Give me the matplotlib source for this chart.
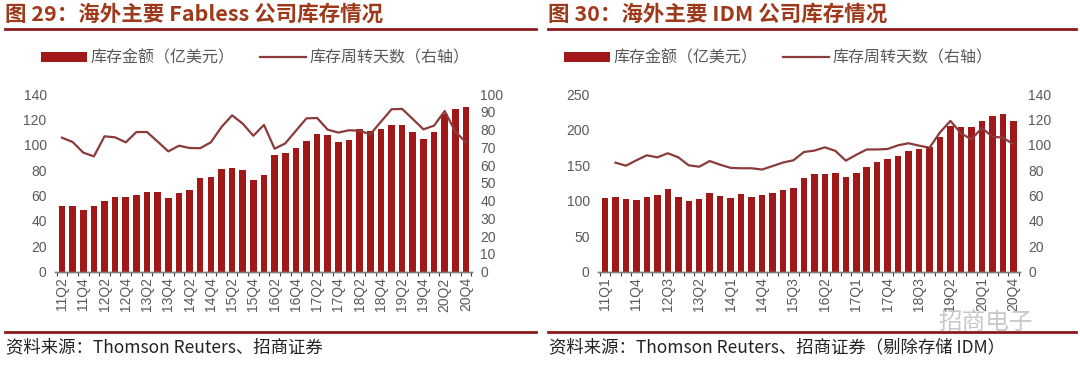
import matplotlib
matplotlib.use("Agg")
import matplotlib.pyplot as plt
from matplotlib.lines import Line2D
from matplotlib.patches import Patch
import numpy as np

plt.rcParams['font.family'] = ['Noto Sans CJK SC', 'DejaVu Sans']

# ---------------- data ----------------
fab_quarters = [f"{y}Q{q}" for y in range(11, 21) for q in range(1, 5)][1:]  # 11Q2..20Q4
fab_inventory = [52, 52, 49, 52, 56, 58.6, 59.1, 60.4, 63.1, 62.5, 58.1, 62.3, 64.6,
                 73.8, 74.6, 80.7, 81.5, 80.0, 72.0, 76.2, 92, 93.5, 97.5, 103.2,
                 108.8, 107.7, 102.2, 104, 112.2, 111.1, 112.2, 115.4, 115.4, 110.3,
                 104.6, 109.8, 124, 128.2, 129.5]
fab_days = [75.4, 73, 67, 64.9, 76.2, 75.6, 72.8, 78.6, 78.6, 73.2, 67.7, 70.9, 69.6,
            69.5, 72.8, 81.4, 88, 83.3, 76.5, 82.6, 69.2, 72.2, 79.3, 86.3, 86.5, 79.9,
            78.3, 79.6, 79.3, 77.3, 84.4, 91.4, 91.6, 85.9, 80.1, 82.2, 90.4, 78.8, 72.8]
fab_ticklabels = fab_quarters[::2]

idm_quarters = [f"{y}Q{q}" for y in range(11, 21) for q in range(1, 5)]  # 11Q1..20Q4
idm_inventory = [103.2, 105.1, 101.8, 100.9, 104.6, 107.5, 115.9, 104.6, 99, 101.8,
                 111.1, 106.5, 103, 109.7, 105.5, 107.5, 110.3, 115.6, 117.5, 132,
                 137, 136.8, 138.6, 133.7, 138.6, 147.3, 155, 158.1, 162.8, 169.8,
                 173, 175.4, 189, 204.5, 203.6, 203.6, 211.6, 219.5, 222.3, 211.6]
idm_days = [np.nan, 85.9, 83.5, 87.8, 91.7, 90.1, 93.3, 90.1, 83.8, 82.7, 87.2, 84.3,
            81.8, 81.5, 81.5, 80.5, 83.2, 86, 87.8, 94.3, 95.4, 98, 95.2, 87.5, 92.1,
            96.3, 96.3, 96.7, 99.6, 101.2, 99.3, 97.7, 109.8, 118.8, 109, 104.3, 113.2,
            106.4, 105.6, 100.6]
idm_ticklabels = idm_quarters[::3]

# ---------------- style ----------------
BAR = '#A01818'
LINE = '#8B3B3B'
TITLE_C = '#9E3A1B'
RULE = '#8B1A1A'
GREY = '#595959'
NUMFONT = 'Liberation Sans'

fig = plt.figure(figsize=(10.8, 3.71), dpi=100)
W, H = 1080, 371


def fx(px):
    return px / W


def fy(py):
    return 1 - py / H


def panel(rect, quarters, inv, days, ticklabels, step, ylim_l, yt_l, ylim_r, yt_r, xlim):
    ax = fig.add_axes(rect)
    x = np.arange(len(quarters))
    ax.bar(x, inv, width=0.62, color=BAR, zorder=2)
    ax.set_ylim(*ylim_l)
    ax.set_yticks(yt_l)
    ax.set_xlim(*xlim)
    ax2 = ax.twinx()
    ax2.plot(x, days, color=LINE, lw=1.6, zorder=3)
    ax2.set_ylim(*ylim_r)
    ax2.set_yticks(yt_r)
    for a in (ax, ax2):
        for s in ('top', 'left', 'right'):
            a.spines[s].set_visible(False)
        a.spines['bottom'].set_color('#7f7f7f')
        a.spines['bottom'].set_linewidth(1.0)
        a.tick_params(axis='y', length=0, labelsize=10, labelcolor=GREY, pad=6)
        for lab in a.get_yticklabels():
            lab.set_fontfamily(NUMFONT)
    ax.set_xticks(x[::step])
    ax.set_xticklabels(ticklabels, rotation=90, fontsize=10, color=GREY,
                       fontfamily=NUMFONT)
    ax.tick_params(axis='x', which='major', length=0, pad=4)
    ax.set_xticks(np.arange(-0.5, len(quarters), 1.0), minor=True)
    ax.tick_params(axis='x', which='minor', length=3, color='#404040', width=0.8,
                   direction='out')
    return ax, ax2


# Left panel
axL, axL2 = panel([fx(55), fy(271.7), fx(472) - fx(55), fy(94) - fy(271.7)],
                  fab_quarters, fab_inventory, fab_days, fab_ticklabels, 2,
                  (0, 140), np.arange(0, 141, 20), (0, 100), np.arange(0, 101, 10),
                  (-0.66, 38.57))
# Right panel
axR, axR2 = panel([fx(598), fy(271.7), fx(1020) - fx(598), fy(94) - fy(271.7)],
                  idm_quarters, idm_inventory, idm_days, idm_ticklabels, 3,
                  (0, 250), np.arange(0, 251, 50), (0, 140), np.arange(0, 141, 20),
                  (-0.67, 39.64))

handles = [Patch(facecolor=BAR, edgecolor='none'),
           Line2D([0], [0], color=LINE, lw=1.6)]
labels = ['库存金额（亿美元）', '库存周转天数（右轴）']
for cx in (255, 778):
    fig.legend(handles, labels, loc='center', bbox_to_anchor=(fx(cx), fy(58)),
               ncol=2, frameon=False, fontsize=11.5, labelcolor=GREY,
               handlelength=2.9, handleheight=0.6, handletextpad=0.2,
               columnspacing=1.6)

# Titles
fig.text(fx(5), fy(14), '图 29：海外主要 Fabless 公司库存情况', fontsize=15.5,
         fontweight='bold', color=TITLE_C, va='center', ha='left')
fig.text(fx(548), fy(14), '图 30：海外主要 IDM 公司库存情况', fontsize=15.5,
         fontweight='bold', color=TITLE_C, va='center', ha='left')

# Rules
for (x0, x1) in ((5, 536), (548, 1076)):
    fig.add_artist(Line2D([fx(x0), fx(x1)], [fy(29), fy(29)], color=RULE, lw=2.0,
                          transform=fig.transFigure))
    fig.add_artist(Line2D([fx(x0), fx(x1)], [fy(332), fy(332)], color=RULE, lw=2.0,
                          transform=fig.transFigure))

# Sources
fig.text(fx(6), fy(347), '资料来源：Thomson Reuters、招商证券', fontsize=12.5,
         color='#222222', va='center', ha='left')
fig.text(fx(549), fy(347), '资料来源：Thomson Reuters、招商证券（剔除存储 IDM）',
         fontsize=12.5, color='#222222', va='center', ha='left')

# Watermark
fig.text(fx(938), fy(322), '招商电子', fontsize=17, color='#bbbbbb', alpha=0.8,
         va='center', ha='left')

fig.savefig('out.png', dpi=100)
